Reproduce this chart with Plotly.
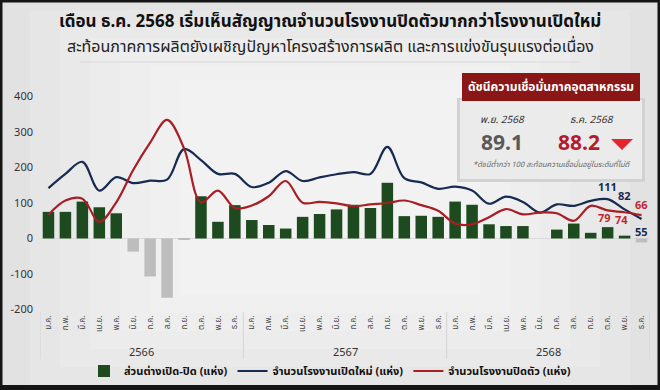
import plotly.graph_objects as go

months = ["ม.ค.", "ก.พ.", "มี.ค.", "เม.ย.", "พ.ค.", "มิ.ย.",
          "ก.ค.", "ส.ค.", "ก.ย.", "ต.ค.", "พ.ย.", "ธ.ค."]
years = ["2566", "2567", "2568"]
month_labels = months * 3

# จำนวนโรงงานเปิดใหม่ (แห่ง)
opened = [142, 182, 216, 135, 173, 156, 163, 166, 252, 221, 182, 182,
          145, 157, 190, 162, 172, 181, 187, 182, 258, 170, 158, 140,
          146, 135, 98, 118, 103, 73, 96, 92, 106, 111, 82, 55]
# จำนวนโรงงานปิดตัว (แห่ง)
closed = [67, 107, 112, 47, 102, 193, 270, 334, 254, 102, 135, 86,
          93, 119, 162, 101, 103, 99, 91, 96, 100, 107, 94, 78,
          42, 40, 60, 83, 68, 73, 71, 50, 92, 79, 74, 66]
# ส่วนต่างเปิด-ปิด (แห่ง)
net = [75, 75, 104, 88, 71, -37, -107, -167, -2, 119, 47, 94,
       52, 38, 28, 61, 69, 82, 95, 86, 157, 63, 64, 61,
       104, 95, 40, 35, 35, 0, 25, 42, 16, 32, 8, -11]

ci_months = ["พ.ย. 2568", "ธ.ค. 2568"]
ci_values = [89.1, 88.2]

FONT = "Noto Sans Thai, Noto Sans, Tahoma, sans-serif"
GREEN = "#1e4a1f"
GREY_BAR = "#bdbdbd"
NAVY = "#172a52"
RED = "#a81e24"

W, H = 660, 390
L, R, T, B = 40, 10, 93, 77
PW, PH = W - L - R, H - T - B


def px(x):
    return (x - L) / PW


def py(y):
    return (H - B - y) / PH


x = list(range(len(month_labels)))

fig = go.Figure()
fig.add_trace(go.Bar(
    x=x, y=net, name="<b>ส่วนต่างเปิด-ปิด (แห่ง)</b>",
    marker=dict(color=[GREEN if v >= 0 else GREY_BAR for v in net], line=dict(width=0)),
    width=0.68,
))
fig.add_trace(go.Scatter(
    x=x, y=opened, name="<b>จำนวนโรงงานเปิดใหม่ (แห่ง)</b>", mode="lines",
    line=dict(color=NAVY, width=2.2, shape="spline", smoothing=1.0),
))
fig.add_trace(go.Scatter(
    x=x, y=closed, name="<b>จำนวนโรงงานปิดตัว (แห่ง)</b>", mode="lines",
    line=dict(color=RED, width=2.2, shape="spline", smoothing=1.0),
))

annotations = []
shapes = []


def note(xp, yp, text, size, color, **kw):
    d = dict(x=px(xp), y=py(yp), xref="paper", yref="paper", text=text, showarrow=False,
             xanchor="center", yanchor="middle", font=dict(family=FONT, size=size, color=color))
    d.update(kw)
    return d


# last three months value labels
n = len(x)
for k, (dy_o, dy_c) in enumerate([(12, -8), (13, -8), (-14, 10)]):
    i = n - 3 + k
    annotations.append(dict(x=x[i], y=opened[i], text=f"<b>{opened[i]}</b>", showarrow=False,
                            xanchor="center", yanchor="middle",
                            yshift=dy_o, font=dict(family=FONT, size=11, color=NAVY)))
    annotations.append(dict(x=x[i], y=closed[i], text=f"<b>{closed[i]}</b>", showarrow=False,
                            xanchor="center", yanchor="middle",
                            yshift=dy_c, xshift=-3 if k < 2 else 0,
                            font=dict(family=FONT, size=11, color="#c0282e")))

# year labels and separators
for j, yr in enumerate(years):
    annotations.append(dict(x=j * 12 + 5.5, y=py(352), xref="x", yref="paper", text=yr,
                            xanchor="center", yanchor="middle",
                            showarrow=False, font=dict(family=FONT, size=11, color="#333333")))
for j in range(len(years) + 1):
    shapes.append(dict(type="line", xref="x", yref="paper", x0=j * 12 - 0.5, x1=j * 12 - 0.5,
                       y0=py(312), y1=py(359), line=dict(color="#d4d4d4", width=1)))

# background shading (soft radial-ish lightening)
for s in range(6):
    shapes.append(dict(type="rect", xref="paper", yref="paper",
                       x0=px(30 + s * 30), x1=px(630 - s * 30), y0=py(385 - s * 18), y1=py(10 + s * 14),
                       fillcolor="white", opacity=0.14, line=dict(width=0), layer="below"))
shapes.append(dict(type="line", xref="paper", yref="paper", x0=px(80), x1=px(580), y0=py(62), y1=py(62),
                   line=dict(color="#d9d9d9", width=1), layer="below"))

# info box
shapes.append(dict(type="rect", xref="paper", yref="paper", x0=px(457), x1=px(645), y0=py(182), y1=py(98),
                   fillcolor="#d2d2d2", line=dict(width=0)))
shapes.append(dict(type="rect", xref="paper", yref="paper", x0=px(460), x1=px(642), y0=py(179), y1=py(100),
                   fillcolor="#ebebeb", line=dict(width=0)))
shapes.append(dict(type="rect", xref="paper", yref="paper", x0=px(462), x1=px(640), y0=py(101), y1=py(73),
                   fillcolor="#8a1616", line=dict(width=0)))
tx0, tx1, ty0, ty1 = px(611), px(633), py(139), py(150)
shapes.append(dict(type="path", xref="paper", yref="paper",
                   path=f"M {tx0} {ty0} L {tx1} {ty0} L {(tx0 + tx1) / 2} {ty1} Z",
                   fillcolor="#e3262b", line=dict(width=0)))

annotations += [
    note(551, 87, "<b>ดัชนีความเชื่อมั่นภาคอุตสาหกรรม</b>", 12, "white"),
    note(502, 120, f"<i>{ci_months[0]}</i>", 10, "#333333"),
    note(592, 120, f"<i>{ci_months[1]}</i>", 10, "#333333"),
    note(502, 143, f"<b>{ci_values[0]}</b>", 21, "#595959"),
    note(579, 143, f"<b>{ci_values[1]}</b>", 21, "#b21d2b"),
    note(551, 164, "<i>*ดัชนีต่ำกว่า 100 สะท้อนความเชื่อมั่นอยู่ในระดับที่ไม่ดี</i>", 7.5, "#666666"),
    note(330, 22, "<b>เดือน ธ.ค. 2568 เริ่มเห็นสัญญาณจำนวนโรงงานปิดตัวมากกว่าโรงงานเปิดใหม่</b>", 17, "#111111"),
    note(330, 47, "สะท้อนภาคการผลิตยังเผชิญปัญหาโครงสร้างการผลิต และการแข่งขันรุนแรงต่อเนื่อง", 16, "#222222"),
]

# frame
shapes.append(dict(type="rect", xref="paper", yref="paper", x0=px(1), x1=px(659), y0=py(388), y1=py(1),
                   line=dict(color="#151515", width=3)))
shapes.append(dict(type="rect", xref="paper", yref="paper", x0=px(0), x1=px(660), y0=py(390), y1=py(385),
                   fillcolor="#151515", line=dict(width=0)))

fig.update_layout(
    width=W, height=H,
    margin=dict(l=L, r=R, t=T, b=B, autoexpand=False),
    paper_bgcolor="#e2e2e2",
    plot_bgcolor="rgba(0,0,0,0)",
    font=dict(family=FONT, color="#333333"),
    showlegend=True,
    legend=dict(orientation="h", x=px(330), y=py(371), xanchor="center", yanchor="middle",
                font=dict(family=FONT, size=11, color="#111111"), bgcolor="rgba(0,0,0,0)",
                itemwidth=30, traceorder="normal"),
    bargap=0.3,
    xaxis=dict(range=[-0.5, 35.5], tickmode="array", tickvals=x, ticktext=month_labels,
               tickangle=-90, tickfont=dict(family=FONT, size=8, color="#444444"),
               showgrid=False, zeroline=False, showline=False, ticks="", automargin=False),
    yaxis=dict(range=[-210, 410], tickvals=[-200, -100, 0, 100, 200, 300, 400],
               tickfont=dict(family=FONT, size=11, color="#333333"),
               showgrid=False, zeroline=True, zerolinecolor="#d9d9d9", zerolinewidth=1,
               showline=False, ticks="", ticklabelstandoff=6, automargin=False),
    annotations=annotations,
    shapes=shapes,
)

fig.write_html("out.html", config={"displayModeBar": False},
               post_script="document.body.style.margin='0';document.body.style.overflow='hidden';")
